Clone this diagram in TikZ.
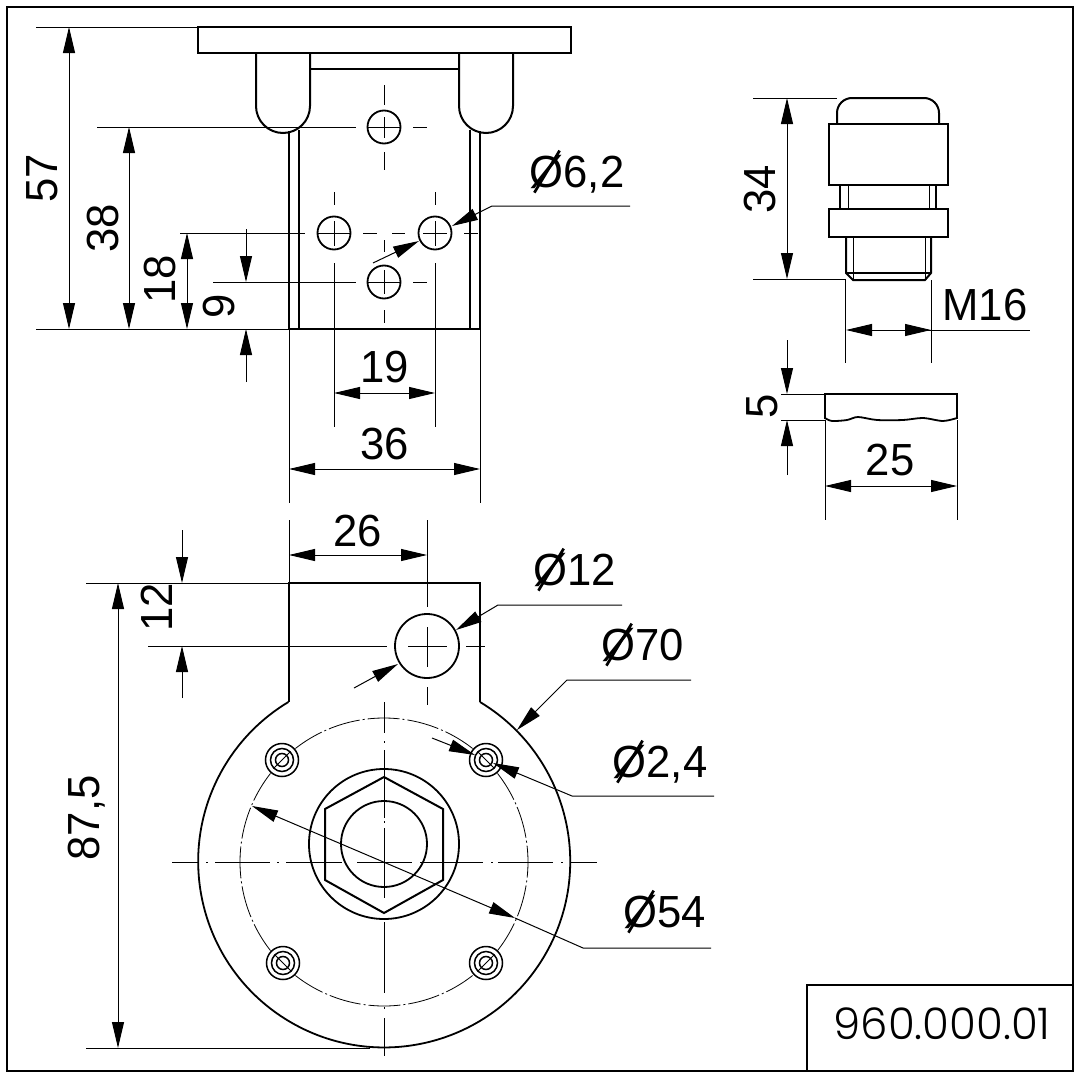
\documentclass[tikz,border=0pt]{standalone}
\usepackage{fontspec}
\usepackage{graphicx}
\setmainfont[FakeStretch=0.97]{Liberation Sans}
\newfontfamily\titlefont{Poppins Light}
\usetikzlibrary{arrows.meta}
\tikzset{
  thick line/.style={draw=black,line width=2pt,line join=miter},
  thin line/.style={draw=black,line width=1pt},
  mid line/.style={draw=black,line width=1.8pt},
  ring line/.style={draw=black,line width=1.5pt},
  dim/.style={thin line,{Triangle[length=26pt,width=12pt]}-{Triangle[length=26pt,width=12pt]}},
  tip/.style={thin line,-{Triangle[length=26pt,width=12pt]}},
  label/.style={inner sep=0pt,font=\fontsize{45}{47}\selectfont,text=black},
  vlabel/.style={label,rotate=90},
  pitch/.style={draw=black,line width=0.8pt,dash pattern=on 32pt off 3pt on 2pt off 3pt},
}
\newcommand{\hole}[2]{\draw[mid line] (#1,#2) circle[radius=16.5pt];}
\newcommand{\stud}[2]{\draw[ring line] (#1,#2) circle[radius=16.5pt] (#1,#2) circle[radius=11.5pt] (#1,#2) circle[radius=6.5pt];}
\newcommand{\dia}{Ø\kern-0.37em\makebox[0pt]{\raisebox{-0.185em}{\rotatebox[origin=c]{-31}{\rule{0.06em}{1.09em}}}}\kern0.37em}
\begin{document}
\begin{tikzpicture}[x=1pt,y=-1pt]
\useasboundingbox (0,0) rectangle (1077,1076);
\fill[white] (0,0) rectangle (1077,1076);
% frame
\draw[thick line] (7,7) rectangle (1073,1071);
\draw[thick line] (807,1071) -- (807,985) -- (1073,985);
\node[inner sep=0pt,font=\titlefont\fontsize{43.5}{45}\selectfont,text=black] (title) at (942,1024) {960.000.01};
% --- top view
\draw[thick line] (198,27) rectangle (571,53);
\draw[thick line] (256,53) -- (256,106) arc[start angle=180,end angle=360,radius=27pt] -- (310,53);
\draw[thick line] (459,53) -- (459,106) arc[start angle=180,end angle=360,radius=27pt] -- (513,53);
\draw[thick line] (310,69) -- (459,69);
\draw[thick line] (289,131) -- (289,329) -- (480,329) -- (480,131);
\draw[thick line] (299,130) -- (299,329);
\draw[thick line] (470,130) -- (470,329);
\hole{384}{127}\hole{334}{233}\hole{435}{233}\hole{384}{282}
% centre lines of the holes
\draw[thin line]
  (384,85)--(384,105) (384,117)--(384,138) (384,152)--(384,170)
  (368,127)--(400,127) (413,127)--(427,127)
  (334,192)--(334,205) (334,221)--(334,246)
  (318,233)--(350,233) (363,233)--(377,233) (392,233)--(405,233) (423,233)--(447,233) (464,233)--(478,233)
  (435,192)--(435,205) (435,221)--(435,246)
  (384,240)--(384,252) (384,270)--(384,294) (384,310)--(384,323)
  (368,282)--(400,282) (413,282)--(427,282);
% extension lines
\draw[thin line]
  (36,27)--(198,27) (36,329)--(289,329)
  (97,127)--(356,127) (180,233)--(305,233) (213,282)--(356,282)
  (334,263)--(334,427) (435,263)--(435,427)
  (289,329)--(289,503) (480,329)--(480,503);
\draw[dim] (69,27)--(69,329);
\draw[dim] (129,127)--(129,329);
\draw[dim] (187,233)--(187,329);
\draw[tip] (246,229)--(246,282);
\draw[tip] (246,382)--(246,329);
\draw[dim] (334,393)--(435,393);
\draw[dim] (289,469)--(480,469);
\node[vlabel] (d57) at (42,178) {57};
\node[vlabel] (d38) at (103,228) {38};
\node[vlabel] (d18) at (160,279) {18};
\node[vlabel] (d9) at (219,306) {9};
\node[label] (d19) at (385,367) {19};
\node[label] (d36) at (385,444) {36};
\draw[tip] (630,206)--(492,206)--(452,226);
\draw[tip] (373,263)--(419,241);
\node[label] (dh62) at (577,173) {\dia6,2};
% --- cable gland
\draw[thick line] (837,124) -- (837,113) arc[start angle=180,end angle=90,radius=15pt] -- (924,98) arc[start angle=90,end angle=0,radius=15pt] -- (939,124);
\draw[thick line] (829,124) rectangle (948,185);
\draw[thick line] (829,209) rectangle (948,237);
\draw[thick line] (840,185)--(840,209) (936,185)--(936,209);
\draw[thin line] (848,185)--(848,209) (929,185)--(929,209);
\draw[thick line] (846,237)--(846,273)--(853,280)--(925,280)--(931,273)--(931,237);
\draw[thin line] (853,237)--(853,280) (925,237)--(925,280);
\draw[mid line] (846,273)--(931,273);
\draw[thin line] (753,98)--(837,98) (753,279)--(846,279);
\draw[dim] (787,98)--(787,279);
\node[vlabel] (d34) at (760,189) {34};
\draw[thin line] (845,280)--(845,363) (931,280)--(931,363);
\draw[thin line,{Triangle[length=26pt,width=12pt]}-] (846,330)--(1030,330);
\draw[thin line,-{Triangle[length=26pt,width=12pt]}] (880,330)--(931,330);
\node[label] (dm16) at (985,305) {M16};
% cover
\draw[thick line] (825,419)--(825,394)--(957,394)--(957,419);
\draw[mid line] plot[smooth,tension=0.5] coordinates {(825,418)(832,421)(847,420)(858,417)(877,420)(903,420)(923,418)(943,421)(957,418)};
\draw[thin line] (781,394)--(825,394) (781,420)--(825,420);
\draw[tip] (787,340)--(787,394);
\draw[tip] (787,475)--(787,420);
\node[vlabel] (d5) at (762,406) {5};
\draw[thin line] (825,420)--(825,520) (957,420)--(957,520);
\draw[dim] (825,486)--(957,486);
\node[label] (d25) at (890,460) {25};
% --- front view
\draw[thick line] (480,702) -- (480,583) -- (289,583) -- (289,702);
\draw[mid line] (480,702) arc[start angle=59,end angle=-239,radius=186pt];
\draw[mid line] (427,646) circle[radius=32pt];
\draw[mid line] (384,844) circle[radius=75pt];
\draw[mid line] (384,844) circle[radius=43pt];
\draw[thick line] (384,777)--(443,809)--(443,880)--(384,913)--(325,880)--(325,809)--cycle;
\stud{282}{760}\stud{486}{760}\stud{283}{963}\stud{486}{963}
\draw[thin line] (274,768)--(290,752) (478,752)--(494,768) (275,955)--(291,971) (478,971)--(494,955);
\draw[pitch] (384,862) ++(52:144pt) arc[start angle=52,end angle=128,radius=144pt];
\draw[pitch] (384,862) ++(142:144pt) arc[start angle=142,end angle=218,radius=144pt];
\draw[pitch] (384,862) ++(232:144pt) arc[start angle=232,end angle=308,radius=144pt];
\draw[pitch] (384,862) ++(322:144pt) arc[start angle=322,end angle=398,radius=144pt];
% centre lines
\draw[thin line]
  (172,862)--(199,862) (206,862)--(208,862) (215,862)--(270,862) (277,862)--(279,862) (286,862)--(342,862) (357,862)--(412,862) (420,862)--(483,862) (491,862)--(493,862) (498,862)--(553,862) (561,862)--(563,862) (570,862)--(597,862)
  (384,702)--(384,733) (384,741)--(384,743) (384,750)--(384,818) (384,821)--(384,823) (384,828)--(384,898) (384,922)--(384,993) (384,1007)--(384,1009) (384,1018)--(384,1056)
  (427,520)--(427,607) (427,627)--(427,667) (427,687)--(427,705)
  (148,646)--(387,646) (408,646)--(447,646) (466,646)--(485,646);
% extensions and dims
\draw[thin line] (86,583)--(289,583) (86,1048)--(370,1048) (289,520)--(289,583);
\draw[dim] (289,555)--(427,555);
\draw[tip] (182,530)--(182,583);
\draw[tip] (182,698)--(182,646);
\draw[dim] (118,583)--(118,1048);
\node[label] (d26) at (358,531) {26};
\node[vlabel] (d12) at (157,607) {12};
\node[vlabel] (d875) at (87,818) {87,5};
\draw[tip] (622,605)--(498,605)--(456,630);
\draw[tip] (354,688)--(398,664);
\node[label] (dh12) at (575,571) {\dia12};
\draw[tip] (691,680)--(567,680)--(517,730);
\node[label] (dh70) at (643,646) {\dia70};
\draw[tip] (714,796)--(572,796)--(493,763);
\draw[tip] (432,738)--(475,755);
\node[label] (dh24) at (660,763) {\dia2,4};
\draw[dim] (252,806)--(515,918);
\draw[thin line] (515,918)--(583,948)--(711,948);
\node[label] (dh54) at (665,913) {\dia54};
\end{tikzpicture}
\end{document}
